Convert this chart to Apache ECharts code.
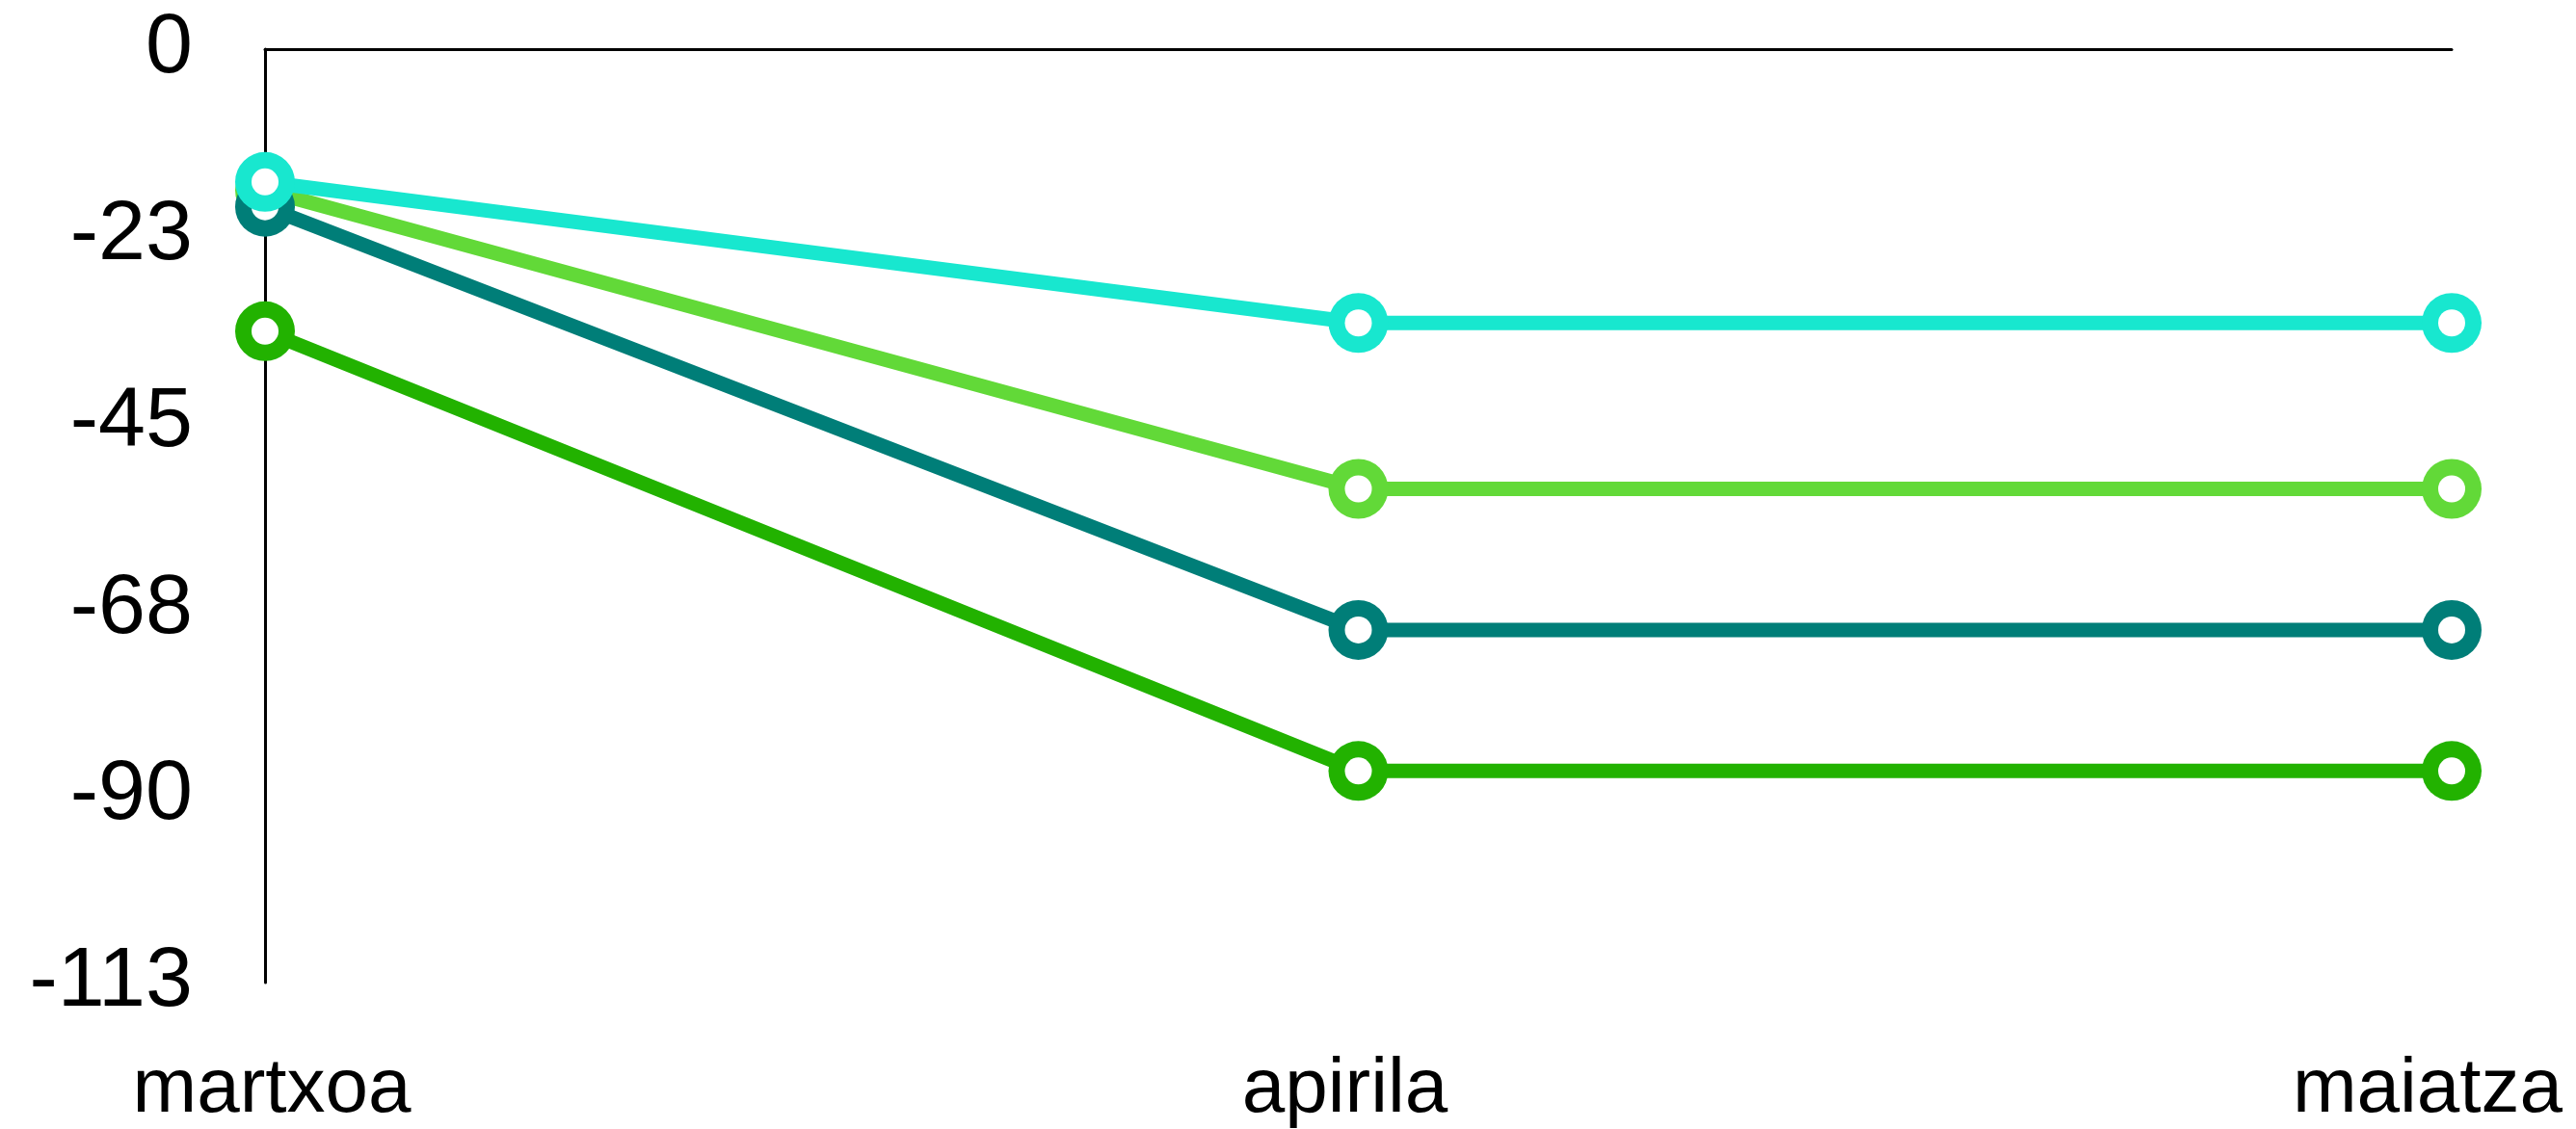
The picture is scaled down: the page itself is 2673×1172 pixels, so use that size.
<!DOCTYPE html>
<html>
<head>
<meta charset="utf-8">
<script src="https://cdn.jsdelivr.net/npm/echarts@6/dist/echarts.min.js"></script>
<style>
html,body{margin:0;padding:0;background:#fff;}
#chart{width:2673px;height:1172px;}
</style>
</head>
<body>
<div id="chart"></div>
<script>
const categories = ['martxoa', 'apirila', 'maiatza'];
const seriesNames = ['S1', 'S2', 'S3', 'S4'];
const lightGreenValues = [-17, -53, -53];
const greenValues = [-34, -87, -87];
const tealValues = [-19, -70, -70];
const cyanValues = [-16, -33, -33];
const yTickLabels = ['0', '-23', '-45', '-68', '-90', '-113'];
const yMin = -112.5, yMax = 0, yInterval = 22.5;

const colors = ['#62D938', '#22B200', '#007E78', '#18E7CF'];
const allValues = [lightGreenValues, greenValues, tealValues, cyanValues];
const labelPads = [[0, 0, 0, 14], [0, 28, 0, 0], [0, 50, 0, 0]];

const chart = echarts.init(document.getElementById('chart'));
const font = "'Liberation Sans', Arial, sans-serif";

const series = [];
allValues.forEach((vals, i) => {
  series.push({
    name: seriesNames[i],
    type: 'line',
    data: vals,
    xAxisIndex: 0,
    z: 10 + 2 * i,
    symbol: 'circle',
    symbolSize: 62,
    showSymbol: true,
    lineStyle: { color: colors[i], width: 15 },
    itemStyle: { color: colors[i], borderWidth: 0, opacity: 1 },
    emphasis: { disabled: true },
    silent: true
  });
  series.push({
    name: seriesNames[i] + ' hole',
    type: 'scatter',
    data: vals,
    xAxisIndex: 0,
    z: 11 + 2 * i,
    symbol: 'circle',
    symbolSize: 28,
    itemStyle: { color: '#ffffff', borderWidth: 0, opacity: 1 },
    emphasis: { disabled: true },
    silent: true
  });
});

chart.setOption({
  animation: false,
  backgroundColor: '#ffffff',
  grid: { left: 275, right: 129, top: 51, bottom: 150, containLabel: false },
  xAxis: [
    {
      type: 'category',
      data: categories.map((c, i) => ({ value: c, textStyle: { padding: labelPads[i] } })),
      boundaryGap: false,
      position: 'bottom',
      axisLine: { show: false, onZero: false },
      axisTick: { show: false },
      splitLine: { show: false },
      axisLabel: { interval: 0, margin: 72, fontSize: 80, fontFamily: font, color: '#000' }
    },
    {
      type: 'category',
      data: categories,
      boundaryGap: false,
      position: 'top',
      axisLine: { show: true, onZero: false, lineStyle: { color: '#000', width: 3 } },
      axisTick: { show: false },
      axisLabel: { show: false },
      splitLine: { show: false }
    }
  ],
  yAxis: {
    type: 'value',
    min: yMin,
    max: yMax,
    interval: yInterval,
    axisLine: { show: true, lineStyle: { color: '#000', width: 3 } },
    axisTick: { show: false },
    splitLine: { show: false },
    axisLabel: {
      margin: 75,
      fontSize: 88,
      fontFamily: font,
      color: '#000',
      formatter: v => yTickLabels[Math.round(-v / yInterval)]
    }
  },
  series: series
});
</script>
</body>
</html>
